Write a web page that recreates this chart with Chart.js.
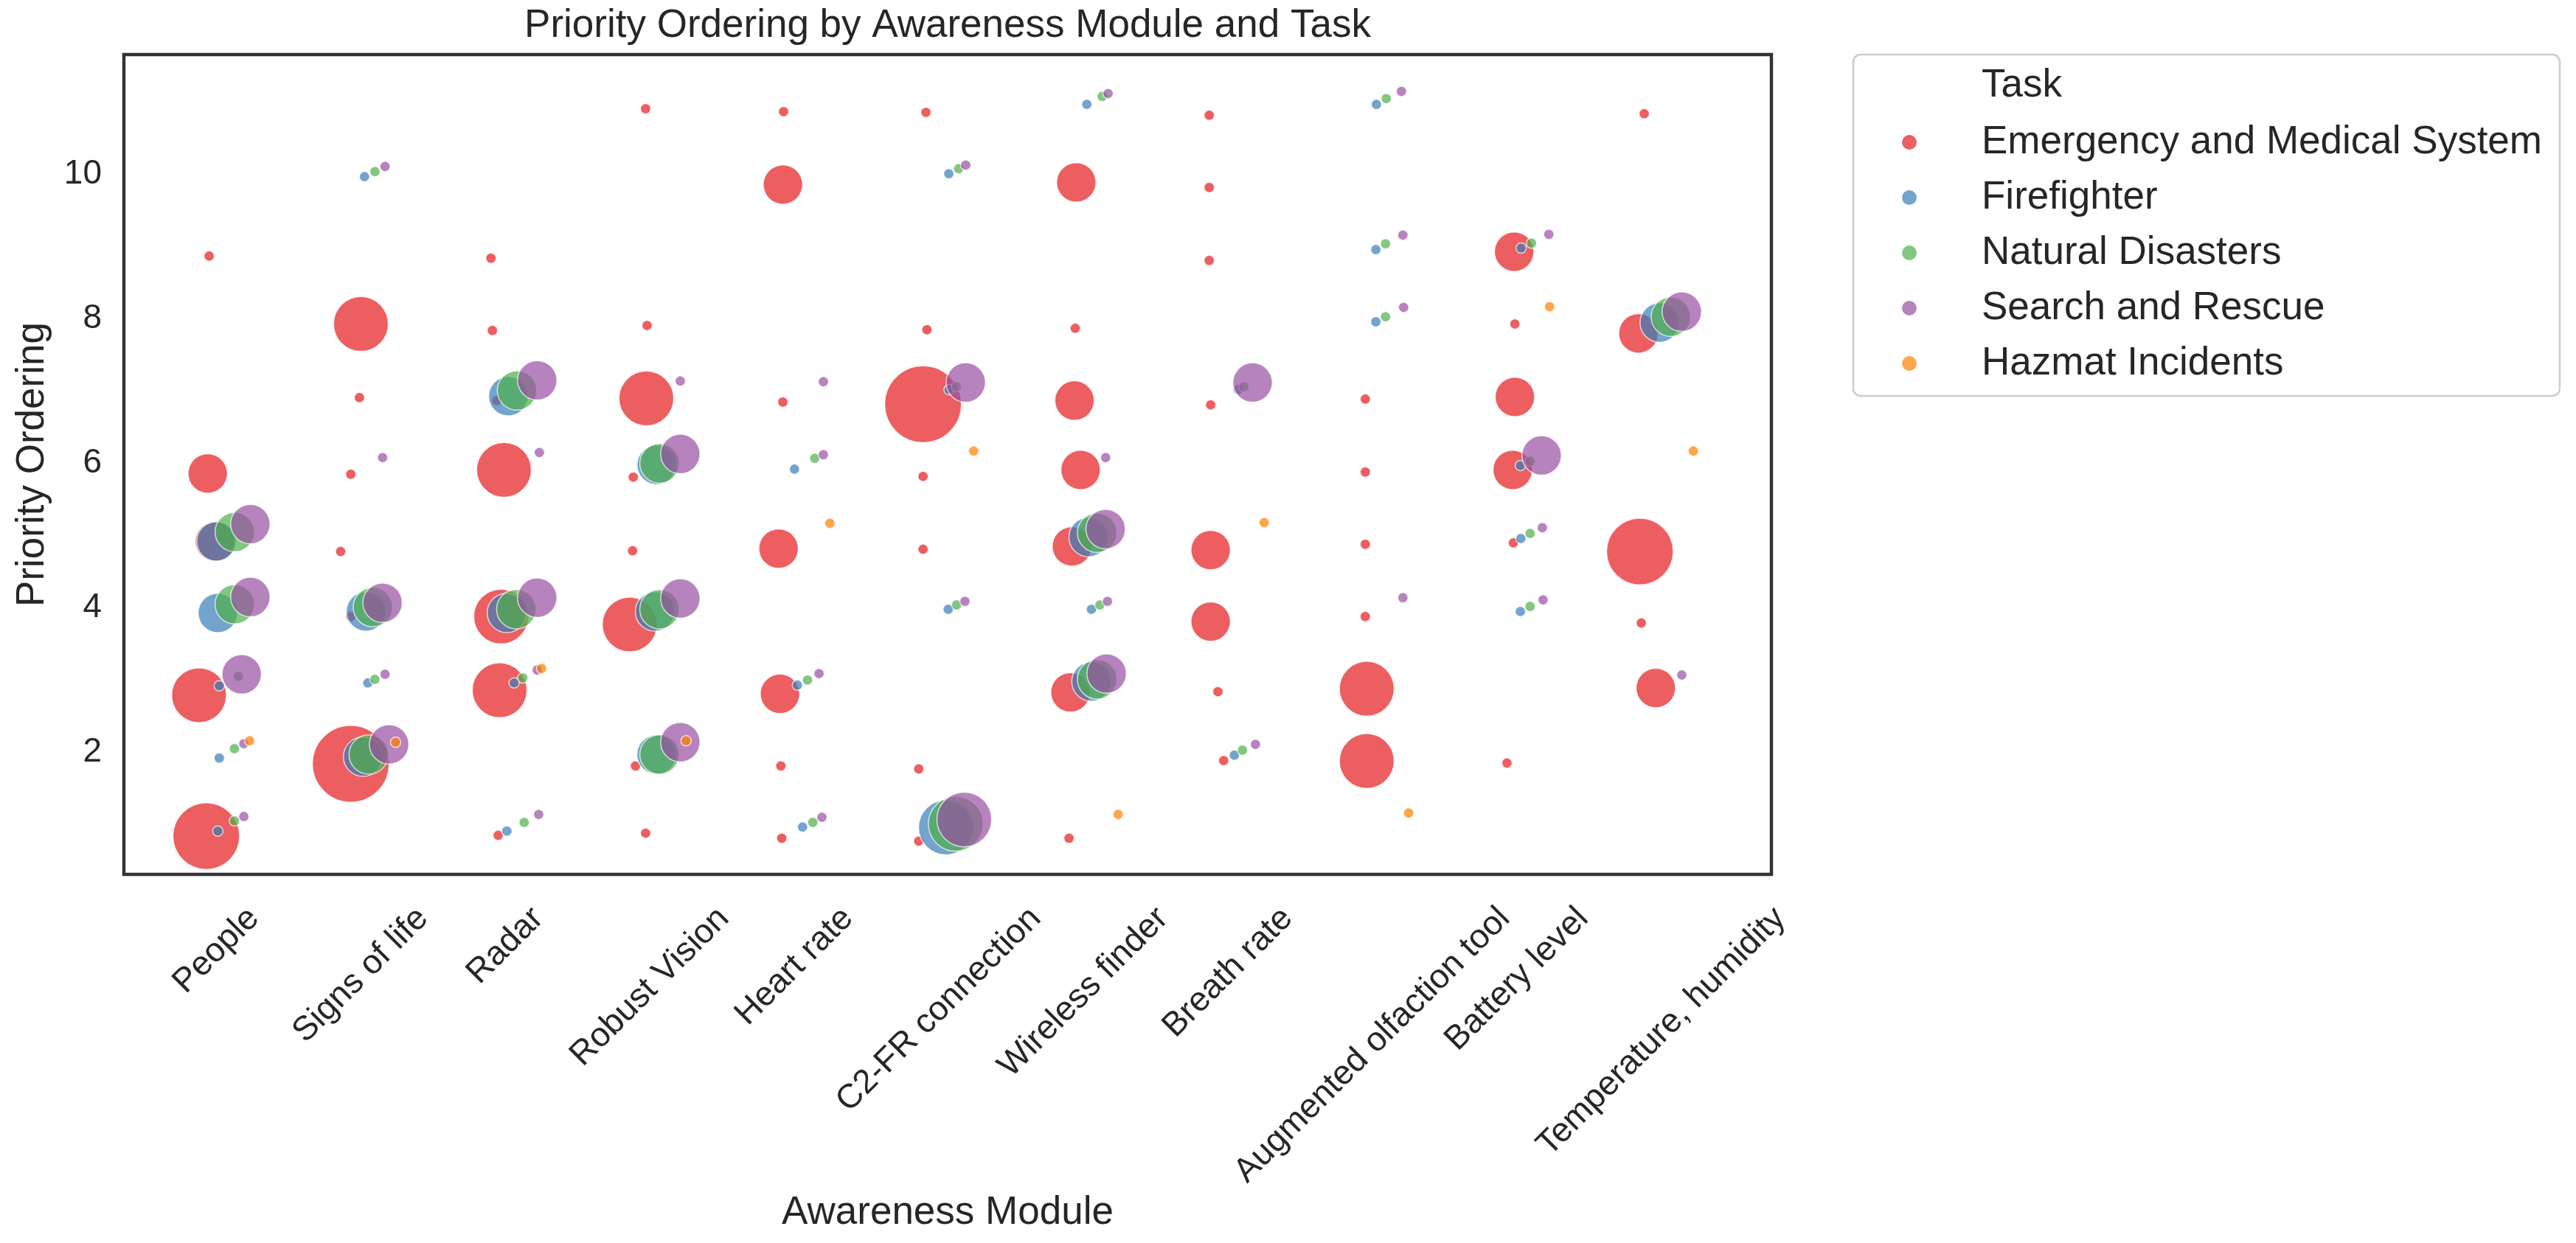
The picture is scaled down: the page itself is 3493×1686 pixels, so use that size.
<!DOCTYPE html>
<html>
<head>
<meta charset="utf-8">
<title>Priority Ordering by Awareness Module and Task</title>
<script src="https://cdn.jsdelivr.net/npm/chart.js@4.4.1/dist/chart.umd.min.js"></script>
<style>
  html, body { margin: 0; padding: 0; background: #fff; overflow: hidden; }
  #chart { display: block; }
</style>
</head>
<body>
<canvas id="chart" width="3493" height="1686"></canvas>
<script>
// Categorias del eje x y tareas (hue)
const modules = ['People', 'Signs of life', 'Radar', 'Robust Vision', 'Heart rate', 'C2-FR connection',
  'Wireless finder', 'Breath rate', 'Augmented olfaction tool', 'Battery level', 'Temperature, humidity'];
const tasks = ['Emergency and Medical System', 'Firefighter', 'Natural Disasters', 'Search and Rescue', 'Hazmat Incidents'];
const yTicks = [2, 4, 6, 8, 10];

// Puntos: [posicion x (indice del modulo + desplazamiento), prioridad, recuento]
const emergency = [
  [-0.05, 8.87, 1], [-0.06, 5.86, 2], [-0.01, 4.92, 2], [-0.12, 2.79, 3], [-0.07, 0.84, 4],
  [1.00, 7.93, 3], [0.99, 6.91, 1], [0.93, 5.85, 1], [0.86, 4.78, 1], [0.93, 3.88, 1], [0.93, 1.84, 5],
  [1.90, 8.84, 1], [1.91, 7.84, 1], [1.94, 6.87, 1], [1.99, 5.91, 3], [1.97, 3.88, 3], [1.96, 2.86, 3], [1.95, 0.85, 1],
  [2.97, 10.91, 1], [2.98, 7.91, 1], [2.975, 6.90, 3], [2.885, 5.81, 1], [2.88, 4.79, 1], [2.86, 3.77, 3], [2.90, 1.81, 1], [2.97, 0.88, 1],
  [3.925, 10.87, 1], [3.92, 9.86, 2], [3.92, 6.85, 1], [3.89, 4.82, 2], [3.90, 2.81, 2], [3.906, 1.81, 1], [3.912, 0.81, 1],
  [4.91, 10.86, 1], [4.917, 7.85, 1], [4.89, 6.82, 5], [4.89, 5.82, 1], [4.89, 4.81, 1], [4.86, 1.77, 1], [4.86, 0.77, 1],
  [5.95, 9.89, 2], [5.943, 7.87, 1], [5.938, 6.87, 2], [5.98, 5.91, 2], [5.92, 4.85, 2], [5.91, 2.83, 2], [5.90, 0.81, 1],
  [6.87, 10.82, 1], [6.87, 9.82, 1], [6.87, 8.81, 1], [6.88, 6.81, 1], [6.88, 4.80, 2], [6.88, 3.81, 2], [6.93, 2.84, 1], [6.97, 1.885, 1],
  [7.95, 6.89, 1], [7.95, 5.88, 1], [7.95, 4.88, 1], [7.95, 3.88, 1], [7.96, 2.88, 3], [7.96, 1.88, 3],
  [8.98, 8.93, 2], [8.985, 7.93, 1], [8.985, 6.92, 2], [8.97, 5.91, 2], [8.975, 4.90, 1], [8.93, 1.85, 1],
  [9.88, 10.84, 1], [9.84, 7.80, 2], [9.85, 4.78, 4], [9.86, 3.79, 1], [9.96, 2.89, 2]
];
const firefighter = [
  [0.00, 4.92, 2], [0.01, 3.93, 2], [0.02, 2.92, 1], [0.02, 1.92, 1], [0.01, 0.91, 1],
  [1.025, 9.97, 1], [1.035, 3.95, 2], [1.048, 2.96, 1], [1.015, 1.94, 2],
  [2.02, 6.93, 2], [2.01, 3.93, 2], [2.06, 2.96, 1], [2.01, 0.91, 1],
  [3.047, 5.98, 2], [3.035, 3.95, 2], [3.046, 1.97, 2],
  [4.00, 5.92, 1], [4.02, 2.93, 1], [4.056, 0.965, 1],
  [5.068, 10.01, 1], [5.07, 7.02, 1], [5.064, 3.98, 1], [5.048, 0.96, 3],
  [6.023, 10.97, 1], [6.035, 4.98, 2], [6.055, 3.98, 1], [6.055, 2.98, 2],
  [7.07, 7.02, 1], [7.044, 1.96, 1],
  [8.027, 10.97, 1], [8.023, 8.96, 1], [8.023, 7.96, 1],
  [9.028, 8.98, 1], [9.023, 5.97, 1], [9.026, 4.96, 1], [9.023, 3.95, 1],
  [9.987, 7.95, 2]
];
const naturalDisasters = [
  [0.127, 5.05, 2], [0.127, 4.05, 2], [0.152, 3.05, 1], [0.125, 2.05, 1], [0.125, 1.05, 1],
  [1.097, 10.04, 1], [1.083, 4.01, 2], [1.097, 3.01, 1], [1.054, 1.97, 2],
  [2.08, 7.01, 2], [2.075, 3.98, 2], [2.12, 3.03, 1], [2.13, 1.03, 1],
  [3.066, 6.00, 2], [3.066, 3.98, 2], [3.066, 1.97, 2],
  [4.14, 6.07, 1], [4.09, 3.00, 1], [4.127, 1.03, 1],
  [5.136, 10.08, 1], [5.12, 7.06, 1], [5.122, 4.04, 1], [5.116, 1.01, 3],
  [6.13, 11.08, 1], [6.094, 5.04, 2], [6.113, 4.04, 1], [6.094, 3.01, 2],
  [7.11, 7.06, 1], [7.10, 2.03, 1],
  [8.095, 11.05, 1], [8.09, 9.04, 1], [8.09, 8.03, 1],
  [9.10, 9.05, 1], [9.09, 6.03, 1], [9.09, 5.03, 1], [9.09, 4.02, 1],
  [10.064, 8.03, 2]
];
const searchRescue = [
  [0.235, 5.16, 2], [0.235, 4.15, 2], [0.175, 3.08, 2], [0.19, 2.12, 1], [0.19, 1.11, 1],
  [1.167, 10.11, 1], [1.15, 6.08, 1], [1.15, 4.07, 2], [1.167, 3.08, 1], [1.195, 2.11, 2],
  [2.22, 7.15, 2], [2.235, 6.15, 1], [2.22, 4.14, 2], [2.22, 3.14, 1], [2.23, 1.14, 1],
  [3.21, 7.14, 1], [3.21, 6.13, 2], [3.21, 4.13, 2], [3.21, 2.14, 2],
  [4.20, 7.13, 1], [4.20, 6.12, 1], [4.17, 3.09, 1], [4.19, 1.10, 1],
  [5.185, 10.13, 1], [5.185, 7.12, 2], [5.18, 4.09, 1], [5.175, 1.07, 3],
  [6.17, 11.12, 1], [6.153, 6.08, 1], [6.153, 5.09, 2], [6.166, 4.09, 1], [6.16, 3.09, 2],
  [7.17, 7.12, 2], [7.19, 2.11, 1],
  [8.20, 11.15, 1], [8.21, 9.16, 1], [8.215, 8.16, 1], [8.21, 4.14, 1],
  [9.22, 9.17, 1], [9.17, 6.11, 2], [9.175, 5.11, 1], [9.18, 4.11, 1],
  [10.14, 8.10, 2], [10.14, 3.07, 1]
];
const hazmat = [
  [0.23, 2.16, 1], [1.24, 2.14, 1], [2.25, 3.16, 1], [3.25, 2.16, 1], [4.245, 5.17, 1],
  [5.24, 6.17, 1], [6.24, 1.14, 1], [7.25, 5.18, 1], [8.25, 1.16, 1], [9.225, 8.17, 1], [10.22, 6.17, 1]
];
const series = [emergency, firefighter, naturalDisasters, searchRescue, hazmat];

// Paleta Set1 con alpha 0.7
const colors = ['rgba(228,26,28,0.7)', 'rgba(55,126,184,0.7)', 'rgba(77,175,74,0.7)', 'rgba(152,78,163,0.7)', 'rgba(255,127,0,0.7)'];
const FONT = '"Liberation Sans", Arial, sans-serif';
const TEXT = '#262626';

// area del marcador lineal con el recuento
const sizeToRadius = n => Math.sqrt(49 + (n - 1) * 664);

const datasets = tasks.map((t, i) => ({
  label: t,
  data: series[i].map(([x, y, n]) => ({x: x, y: y, r: sizeToRadius(n)})),
  backgroundColor: colors[i],
  borderColor: 'rgba(255,255,255,0.7)',
  borderWidth: 1.5,
  order: tasks.length - i
}));

// Marco, titulo, etiquetas rotadas y leyenda
const extras = {
  id: 'extras',
  afterDatasetsDraw(chart) {
    const {ctx, chartArea: a, scales} = chart;
    ctx.save();
    ctx.strokeStyle = '#333333';
    ctx.lineWidth = 4.5;
    ctx.strokeRect(a.left, a.top, a.right - a.left, a.bottom - a.top);

    ctx.fillStyle = TEXT;
    ctx.font = '53px ' + FONT;
    ctx.textAlign = 'center';
    ctx.textBaseline = 'alphabetic';
    ctx.fillText('Priority Ordering by Awareness Module and Task', (a.left + a.right) / 2, 50);

    ctx.font = '46px ' + FONT;
    ctx.textBaseline = 'middle';
    modules.forEach((m, i) => {
      const w = ctx.measureText(m).width;
      const d = (w + 53) * Math.SQRT1_2;
      ctx.save();
      ctx.translate(scales.x.getPixelForValue(i), a.bottom + 34 + d / 2);
      ctx.rotate(-Math.PI / 4);
      ctx.fillText(m, 0, 0);
      ctx.restore();
    });

    const lx = a.right + 111, ly = a.top, lw = 958, lh = 463;
    ctx.beginPath();
    ctx.roundRect(lx, ly, lw, lh, 10);
    ctx.fillStyle = '#ffffff';
    ctx.fill();
    ctx.strokeStyle = '#cccccc';
    ctx.lineWidth = 2.5;
    ctx.stroke();

    ctx.font = '53px ' + FONT;
    ctx.textAlign = 'left';
    ctx.fillStyle = TEXT;
    ctx.fillText('Task', lx + 174, ly + 42);
    tasks.forEach((t, i) => {
      const y = ly + 119 + i * 75;
      ctx.beginPath();
      ctx.arc(lx + 76, y, 10, 0, 2 * Math.PI);
      ctx.fillStyle = colors[i];
      ctx.fill();
      ctx.fillStyle = TEXT;
      ctx.fillText(t, lx + 174, y);
    });
    ctx.restore();
  }
};

new Chart(document.getElementById('chart'), {
  type: 'bubble',
  data: {datasets: datasets},
  options: {
    responsive: false,
    devicePixelRatio: 1,
    animation: false,
    events: [],
    layout: {padding: {top: 74, right: 1091, bottom: 0, left: 0}},
    plugins: {
      legend: {display: false},
      tooltip: {enabled: false}
    },
    scales: {
      x: {
        type: 'linear',
        min: -0.64,
        max: 10.76,
        grid: {display: false, drawTicks: false},
        border: {display: false},
        ticks: {display: false},
        title: {
          display: true,
          text: 'Awareness Module',
          color: TEXT,
          font: {family: FONT, size: 53},
          padding: {top: 0, bottom: 9}
        },
        afterFit: s => { s.height = 500; }
      },
      y: {
        type: 'linear',
        min: 0.31,
        max: 11.66,
        grid: {display: false, drawTicks: false},
        border: {display: false},
        afterBuildTicks: s => { s.ticks = yTicks.map(v => ({value: v})); },
        ticks: {
          color: TEXT,
          padding: 30,
          font: {family: FONT, size: 46}
        },
        title: {
          display: true,
          text: 'Priority Ordering',
          color: TEXT,
          font: {family: FONT, size: 53},
          padding: {top: 13, bottom: 0}
        },
        afterFit: s => { s.width = 168; }
      }
    }
  },
  plugins: [extras]
});
</script>
</body>
</html>
